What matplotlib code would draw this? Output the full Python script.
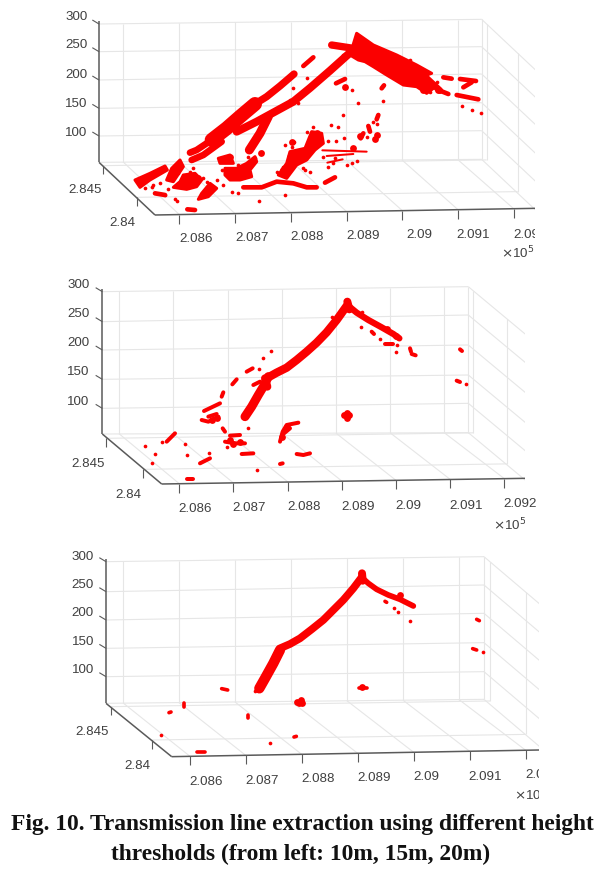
import numpy as np
import matplotlib
matplotlib.use("Agg")
import matplotlib.pyplot as plt
from matplotlib.patches import Polygon

plt.rcParams['font.family'] = ['Liberation Sans', 'DejaVu Sans']
W, H = 614, 872
RED = '#fb0000'
GRID = '#e6e6e6'
AX = '#5a5a5a'
TXT = '#404040'

# All positions are projected positions.
z_labels = ['300', '250', '200', '150', '100']
y_labels = ['2.845', '2.84']
x_labels = ['2.086', '2.087', '2.088', '2.089', '2.09', '2.091', '2.092']

# Panel 1 (10 m): dense masses as outlines
p1_masses = [
    [(800, 100), (850, 135), (920, 165), (980, 195), (1025, 220), (1010, 225), (1030, 265), (1010, 280),
     (980, 260), (940, 255), (890, 225), (850, 200), (825, 185), (805, 180), (780, 165)],
    [(135, 540), (180, 520), (225, 498), (232, 510), (180, 540), (150, 562)],
    [(270, 480), (280, 500), (250, 545), (230, 540), (245, 505)],
    [(280, 525), (315, 520), (335, 540), (320, 560), (290, 568), (250, 562), (270, 545)],
    [(360, 550), (380, 565), (355, 590), (325, 598), (335, 580)],
    [(405, 505), (440, 505), (470, 490), (495, 470), (500, 485), (480, 510), (485, 530), (450, 540),
     (420, 540), (405, 525)],
    [(385, 475), (420, 465), (430, 490), (390, 490)],
    [(565, 525), (590, 490), (600, 455), (645, 445), (665, 395), (695, 400), (700, 430), (675, 450),
     (650, 480), (620, 495), (590, 535)],
]
p1_bands = [
    [(612, 222), (570, 258), (530, 290), (495, 312)],
    [(495, 312), (450, 350), (410, 385), (365, 420)],
    [(365, 420), (320, 450), (300, 458)],
    [(395, 425), (340, 465), (305, 480)],
    [(778, 160), (720, 212), (660, 264), (610, 305), (555, 335), (500, 365), (440, 395)],
    [(535, 350), (510, 400), (478, 450)],
    [(725, 135), (790, 145)],
    [(1010, 235), (1050, 272)],
]
p1_band_widths = [22, 42, 20, 20, 24, 27, 22, 20]
p1_strokes = [
    [(460, 562), (515, 562), (560, 545), (610, 550), (650, 562), (680, 562)],
    [(195, 580), (225, 585)], [(292, 628), (315, 630)], [(705, 548), (735, 532)],
    [(640, 198), (670, 172)], [(738, 250), (765, 237)], [(875, 265), (882, 256)],
    [(1110, 237), (1158, 243)], [(1120, 262), (1145, 247)], [(1100, 285), (1165, 298)],
    [(1050, 272), (1075, 282)], [(1060, 232), (1085, 236)], [(835, 378), (840, 395)],
    [(865, 345), (860, 358)], [(820, 400), (812, 415)],
]
p1_thin_strokes = [
    [(697, 451), (830, 455)], [(710, 468), (790, 462)], [(712, 488), (758, 478)],
]
p1_dots = [
    (508, 603), (585, 585), (585, 435), (612, 425), (668, 380), (723, 375), (745, 380), (760, 345),
    (715, 422), (738, 422), (762, 415), (803, 308), (880, 302), (1172, 338), (1145, 330), (1115, 318),
    (1040, 245), (787, 270), (425, 575), (445, 578), (380, 540), (310, 505), (305, 480), (185, 560),
    (210, 550), (235, 567), (262, 603), (255, 598), (660, 515), (640, 505), (770, 495), (785, 490),
    (800, 483), (848, 365), (860, 373), (830, 410), (650, 235), (610, 265), (625, 310), (515, 455),
    (495, 475), (165, 565), (190, 555), (225, 585), (350, 545), (400, 555), (730, 490), (715, 500),
    (630, 455), (580, 500), (605, 440), (560, 515), (645, 510), (700, 470), (735, 475), (650, 395),
    (685, 415), (420, 520), (475, 470), (445, 495), (395, 510), (340, 535), (265, 520), (240, 525),
    (300, 515), (1000, 210), (960, 180), (1020, 275), (760, 165), (690, 235), (600, 300), (585, 240),
]
p1_blobs = [
    (765, 262), (855, 418), (810, 408), (512, 458), (790, 445), (605, 425), (860, 405),
    (420, 470), (400, 480), (470, 510), (665, 415), (680, 400), (600, 470), (580, 510),
    (295, 535), (325, 535), (1030, 255), (1000, 270), (1045, 270),
]

# Panel 2 (15 m)
p2_bands = [
    [(555, 440), (575, 410), (595, 375), (610, 350), (625, 320)],
    [(625, 322), (650, 308), (680, 293), (710, 270), (740, 245), (770, 218), (800, 187), (830, 150), (860, 108)],
    [(862, 105), (890, 128), (925, 150), (965, 172), (1000, 192), (1018, 205)],
    [(862, 95), (868, 118)],
    [(615, 325), (622, 350)],
]
p2_band_widths = [27, 25, 19, 24, 24]
p2_strokes = [
    [(560, 305), (578, 295)], [(485, 380), (490, 367)], [(432, 423), (455, 412), (480, 400)],
    [(425, 450), (445, 455), (475, 440)], [(445, 440), (470, 432)], [(488, 475), (495, 485)],
    [(495, 515), (525, 520), (555, 520)], [(510, 497), (540, 495)], [(545, 552), (580, 550)],
    [(660, 515), (668, 485), (680, 465), (715, 458)], [(672, 490), (690, 475)],
    [(710, 552), (730, 555), (750, 550)], [(660, 582), (668, 580)], [(380, 628), (400, 628)],
    [(345, 490), (320, 515)], [(420, 580), (450, 565)], [(935, 185), (942, 192)],
    [(975, 222), (1000, 222)], [(1050, 235), (1053, 245)], [(1055, 252), (1067, 256)],
    [(1200, 238), (1206, 243)], [(1190, 332), (1200, 336)], [(517, 343), (530, 328)],
    [(580, 345), (600, 335)],
]
p2_dots = [
    (632, 242), (608, 263), (597, 296), (305, 515), (375, 523), (380, 555), (255, 527), (285, 552),
    (277, 578), (447, 550), (903, 172), (960, 207), (1012, 226), (1007, 247), (1218, 342), (815, 140),
    (905, 125), (565, 475), (592, 600), (500, 530),
]
p2_blobs = [
    (852, 436), (868, 436), (860, 445), (860, 428), (455, 450), (470, 445), (520, 522), (510, 510),
    (540, 515), (680, 472), (665, 500), (980, 178), (1008, 198),
]

# Panel 3 (20 m)
p3_bands = [
    [(598, 445), (615, 415), (640, 370), (660, 330)],
    [(660, 325), (690, 312), (720, 295), (755, 268), (790, 240), (820, 210), (850, 180), (880, 145), (905, 112)],
    [(905, 112), (925, 130), (950, 148), (985, 165), (1020, 178), (1060, 198)],
    [(906, 100), (908, 122)],
]
p3_band_widths = [31, 23, 17, 24]
p3_strokes = [
    [(485, 446), (503, 450)], [(372, 490), (372, 500)], [(327, 518), (333, 516)],
    [(563, 525), (563, 535)], [(897, 445), (920, 445)],
    [(410, 635), (435, 635)], [(702, 591), (709, 589)], [(975, 184), (980, 187)],
    [(1250, 238), (1258, 242)], [(1238, 326), (1250, 330)],
]
p3_dots = [
    (304, 586), (629, 609), (585, 453), (1002, 205), (1013, 215), (1049, 244), (1268, 337),
]
p3_blobs = [(712, 487), (724, 480), (718, 490), (726, 490), (907, 440), (1020, 165)]

panels = [
    dict(box=(90, 0, 445, 270), xlim=1335, ylim=810, left=27, zl=[72, 155, 240, 325, 408], zb=487,
         right=1175, zr=[58, 140, 222, 308, 392], zbr=478, f0=(195, 645), f1=(1335, 625),
         ft=[268, 435, 602, 770, 937, 1104, 1271], dx=168, dy=158, yt=[(38, 497), (140, 592)],
         wall=[1190, 1283], zlab_x=-8, zlab_y=[50, 136, 224, 311, 398],
         xlab=[(318, 718), (486, 714), (652, 712), (820, 708), (987, 706), (1150, 706), (1270, 705)],
         last_left=True, ylab=[(35, 570), (137, 668)], exp=(1232, 758),
         masses=p1_masses, bands=p1_bands, widths=p1_band_widths, strokes=p1_strokes,
         thin=p1_thin_strokes, dots=p1_dots, blobs=p1_blobs, slw=14),
    dict(box=(60, 270, 465, 265), xlim=1395, ylim=795, left=127, zl=[65, 155, 240, 328, 415], zb=492,
         right=1225, zr=[50, 135, 225, 315, 400], zbr=488, f0=(305, 642), f1=(1395, 625),
         ft=[358, 520, 684, 846, 1008, 1171, 1333], dx=180, dy=150, yt=[(137, 505), (250, 598)],
         wall=[1240, 1340], zlab_x=88, zlab_y=[45, 133, 220, 307, 395],
         xlab=[(405, 718), (568, 714), (732, 712), (893, 710), (1045, 708), (1217, 707), (1380, 703)],
         last_left=False, ylab=[(136, 583), (245, 675)], exp=(1298, 764),
         masses=[], bands=p2_bands, widths=p2_band_widths, strokes=p2_strokes, thin=[],
         dots=p2_dots, blobs=p2_blobs, slw=12),
    dict(box=(60, 540, 479, 270), xlim=1437, ylim=810, left=138, zl=[65, 155, 240, 325, 410], zb=490,
         right=1272, zr=[50, 135, 220, 308, 395], zbr=478, f0=(335, 650), f1=(1437, 630),
         ft=[390, 557, 725, 893, 1061, 1229, 1397], dx=200, dy=170, yt=[(152, 500), (275, 600)],
         wall=[1290, 1397], zlab_x=102, zlab_y=[50, 135, 220, 305, 390],
         xlab=[(438, 725), (607, 722), (775, 718), (943, 715), (1100, 712), (1275, 710), (1395, 705)],
         last_left=True, ylab=[(147, 575), (270, 677)], exp=(1362, 766),
         masses=[], bands=p3_bands, widths=p3_band_widths, strokes=p3_strokes, thin=[],
         dots=p3_dots, blobs=p3_blobs, slw=11),
]

fig = plt.figure(figsize=(W / 100, H / 100), dpi=100, facecolor='white')
LW = 0.24  # points per crop unit
FS = 9.6


def ln(ax, xs, ys, c=GRID, lw=0.8, z=1):
    ax.plot(xs, ys, color=c, lw=lw, zorder=z, solid_capstyle='butt')


def path(ax, pts, wid):
    a = np.array(pts, float)
    ax.plot(a[:, 0], a[:, 1], color=RED, lw=wid * LW, solid_capstyle='round',
            solid_joinstyle='round', zorder=4)


for p in panels:
    l, t, w, h = p['box']
    ax = fig.add_axes([l / W, 1 - (t + h) / H, w / W, h / H])
    ax.set_xlim(0, p['xlim'])
    ax.set_ylim(p['ylim'], 0)
    ax.axis('off')

    L, R = p['left'], p['right']
    dx, dy = p['dx'], p['dy']
    f0, f1 = p['f0'], p['f1']
    front_y = lambda x: f0[1] + (x - f0[0]) * (f1[1] - f0[1]) / (f1[0] - f0[0])
    top_y = lambda x: p['zl'][0] + (x - L) * (p['zr'][0] - p['zl'][0]) / (R - L)
    bot_y = lambda x: p['zb'] + (x - L) * (p['zbr'] - p['zb']) / (R - L)

    for a, b in zip(p['zl'] + [p['zb']], p['zr'] + [p['zbr']]):
        ln(ax, [L, R], [a, b])
        ln(ax, [R, R + dx], [b, b + dy])
    ln(ax, [R, R], [p['zr'][0], p['zbr']])
    for ft in p['ft']:
        bx = ft - dx
        ln(ax, [bx, bx], [top_y(bx), bot_y(bx)])
        ln(ax, [bx, ft], [bot_y(bx), front_y(ft)])
    for (yx, yy), wx in zip(p['yt'], p['wall']):
        wy = yy - (wx - yx) * 0.015
        ln(ax, [yx, wx], [yy, wy])
        ln(ax, [wx, wx], [top_y(R) + (wx - R) * dy / dx, wy])

    ln(ax, [L, L], [p['zl'][0] - 8, p['zb']], AX, 1.1, 2)
    ln(ax, [L, f0[0]], [p['zb'], f0[1]], AX, 1.1, 2)
    ln(ax, [f0[0], f1[0]], [f0[1], f1[1]], AX, 1.1, 2)
    for z in p['zl']:
        ln(ax, [L - 20, L], [z - 12, z], AX, 0.8, 2)
    for ft in p['ft']:
        ln(ax, [ft, ft], [front_y(ft), front_y(ft) + 27], AX, 0.8, 2)
    for yx, yy in p['yt']:
        ln(ax, [yx, yx], [yy, yy + 26], AX, 0.8, 2)

    for s, y in zip(z_labels, p['zlab_y']):
        ax.text(p['zlab_x'], y, s, ha='right', va='center', fontsize=FS, color=TXT, clip_on=False)
    for s, (x, y) in zip(y_labels, p['ylab']):
        ax.text(x, y, s, ha='right', va='center', fontsize=FS, color=TXT, clip_on=False)
    for i, (s, (x, y)) in enumerate(zip(x_labels, p['xlab'])):
        left = p['last_left'] and i == 6
        ax.text(x, y, s, ha='left' if left else 'center', va='center', fontsize=FS, color=TXT,
                clip_on=left)
    ax.text(p['exp'][0], p['exp'][1], r'$\times$10$^{5}$', ha='left', va='center', fontsize=FS,
            color=TXT, clip_on=True)

    for poly in p['masses']:
        ax.add_patch(Polygon(poly, closed=True, facecolor=RED, edgecolor=RED, lw=2.2,
                             joinstyle='round', zorder=4))
    for pts, wid in zip(p['bands'], p['widths']):
        path(ax, pts, wid)
    for pts in p['strokes']:
        path(ax, pts, p['slw'])
    for pts in p['thin']:
        path(ax, pts, 6)
    d = np.array(p['dots'], float)
    ax.scatter(d[:, 0], d[:, 1], s=7, color=RED, linewidths=0, zorder=4)
    b = np.array(p['blobs'], float)
    ax.scatter(b[:, 0], b[:, 1], s=24, color=RED, linewidths=0, zorder=4)

cap = dict(ha='center', va='center', fontsize=16.9, fontweight='bold', color='#111111',
           family=['Liberation Serif', 'DejaVu Serif'])
fig.text(302 / W, 1 - 824 / H, 'Fig. 10. Transmission line extraction using different height', **cap)
fig.text(301 / W, 1 - 854 / H, 'thresholds (from left: 10m, 15m, 20m)', **cap)

fig.savefig('out.png', dpi=100, facecolor='white')
